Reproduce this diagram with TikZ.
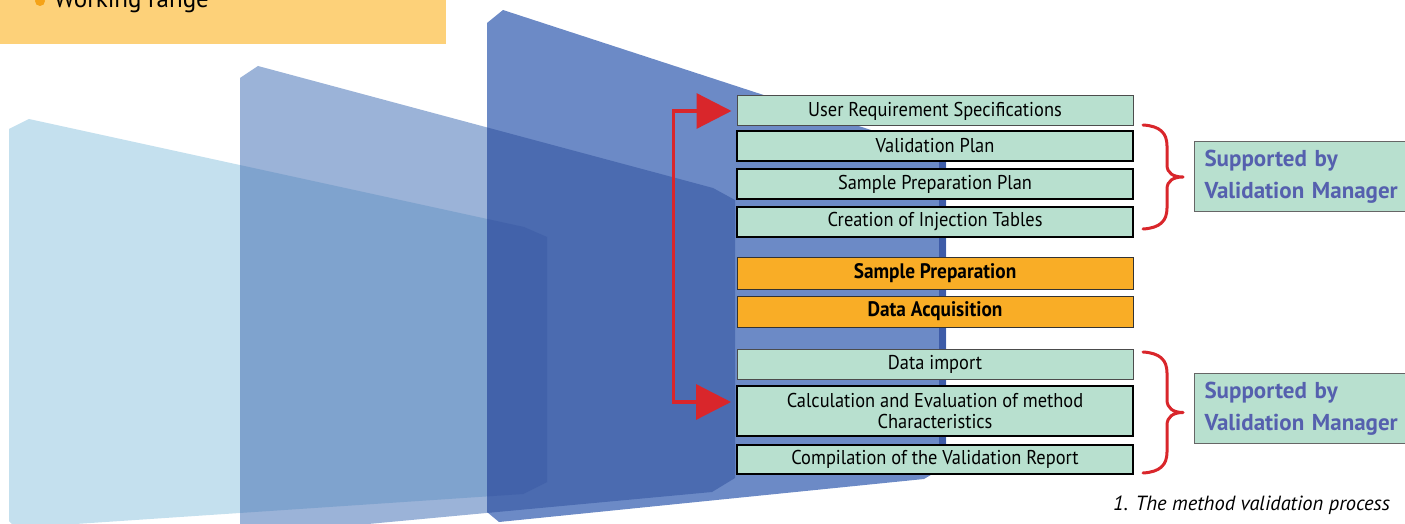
\documentclass[tikz,border=0pt]{standalone}
\usepackage{fontspec}
\setmainfont{PT Sans}
\newfontfamily\condfont[FakeStretch=0.92]{PT Sans}
\usetikzlibrary{arrows.meta}
\definecolor{panA}{HTML}{C4E0EE}
\definecolor{panB}{HTML}{9BB3D8}
\definecolor{panC}{HTML}{6C8AC6}
\definecolor{panAB}{HTML}{7FA3CE}
\definecolor{panBC}{HTML}{4B6BB0}
\definecolor{panABC}{HTML}{4262AA}
\definecolor{panEdge}{HTML}{3E5CA8}
\definecolor{mint}{HTML}{B8E0CF}
\definecolor{amber}{HTML}{F9AD26}
\definecolor{paleamber}{HTML}{FDD179}
\definecolor{bulletc}{HTML}{F5A318}
\definecolor{redc}{HTML}{D9262B}
\definecolor{slate}{HTML}{5560AE}
\newcommand{\myboxfont}{\condfont\fontsize{20bp}{20.5bp}\selectfont}
\newcommand{\myboldfont}{\condfont\fontsize{21bp}{22bp}\selectfont\bfseries}
\newcommand{\mysupfont}{\fontsize{23bp}{32bp}\selectfont\bfseries}
\newcommand{\mycapfont}{\fontsize{20.5bp}{22bp}\selectfont\itshape}
\newcommand{\mytopfont}{\fontsize{25bp}{28bp}\selectfont}
\def\pathA{(9,129) -- (29,119) -- (524,227) -- (547,237) -- (547,482) -- (523,494) -- (16,528) -- (9,521) -- cycle}
\def\pathB{(240,78) -- (258,66) -- (713,188) -- (735,200) -- (735,478) -- (712,492) -- (250,535) -- (240,528) -- cycle}
\def\pathC{(487,23) -- (503,10) -- (920,146) -- (946,158) -- (946,466) -- (924,479) -- (499,522) -- (487,512) -- cycle}
\tikzset{
  stepbox/.style={draw, fill=mint, minimum width=396bp, minimum height=30bp, inner sep=0pt, font=\myboxfont, text=black, align=center},
  thinbox/.style={stepbox, draw=black!70, line width=1bp},
  thickbox/.style={stepbox, draw=black, line width=2bp},
  ambbox/.style={stepbox, fill=amber, draw=black!80, line width=1bp, font=\myboldfont, minimum height=31bp},
  supbox/.style={draw=black!60, line width=1bp, fill=mint, anchor=north west, minimum height=70bp, text width=200bp, inner xsep=10bp, inner ysep=0pt, align=left, text=slate, font=\mysupfont},
  redline/.style={draw=redc, line width=3.3bp},
  bracestyle/.style={draw=redc, line width=3bp, line cap=round, line join=round}
}
\begin{document}
\begin{tikzpicture}[x=1bp,y=-1bp]
\useasboundingbox (0,0) rectangle (1405,524);
\clip (0,0) rectangle (1405,524);
% translucent panels
\fill[panA] \pathA;
\fill[panB] \pathB;
\fill[panC] \pathC;
\begin{scope}
  \clip \pathA;
  \fill[panAB] \pathB;
\end{scope}
\begin{scope}
  \clip \pathB;
  \fill[panBC] \pathC;
  \clip \pathA;
  \fill[panABC] \pathC;
\end{scope}
\begin{scope}
  \clip \pathC;
  \fill[panEdge] (939,140) rectangle (946,480);
\end{scope}
% top label
\node[fill=paleamber, anchor=south west, minimum width=446bp, minimum height=60bp, inner sep=0pt] (topbox) at (0,44) {};
\fill[bulletc] (40,1) circle[radius=5bp];
\node[anchor=base west, font=\mytopfont, inner sep=0pt] (wr) at (54,7.5) {Working range};
% process steps
\node[thinbox] (urs) at (935,111) {User Requirement Specifications};
\node[thickbox] (vp) at (935,146) {Validation Plan};
\node[thickbox] (spp) at (935,184) {Sample Preparation Plan};
\node[thickbox] (cit) at (935,222) {Creation of Injection Tables};
\node[ambbox] (sp) at (935,273.5) {Sample Preparation};
\node[ambbox] (da) at (935,311.5) {Data Acquisition};
\node[thinbox] (di) at (935,364) {Data import};
\node[thickbox, minimum height=50bp] (calc) at (935,411) {Calculation and Evaluation of method\\Characteristics};
\node[thickbox, minimum height=29bp] (comp) at (935,459.5) {Compilation of the Validation Report};
% support boxes
\node[supbox] (sup1) at (1194,141) {Supported by\\Validation Manager};
\node[supbox] (sup2) at (1194,373) {Supported by\\Validation Manager};
% red double arrow
\draw[redline, {Triangle[length=35bp,width=35bp]}-{Triangle[length=35bp,width=35bp]}, shorten <=5bp, shorten >=5bp]
  (urs.west) -- ++(-63,0) |- ([yshift=9bp]calc.west);
% braces
\draw[bracestyle] (1143,125) .. controls (1160,126) and (1167,133) .. (1167,146) -- (1167,165)
  .. controls (1167,173) and (1173,177) .. (1183,177)
  .. controls (1173,177) and (1167,181) .. (1167,189) -- (1167,208)
  .. controls (1167,221) and (1160,228) .. (1143,229);
\draw[bracestyle] (1143,352) .. controls (1160,353) and (1167,360) .. (1167,373) -- (1167,400)
  .. controls (1167,408) and (1173,412.5) .. (1183,412.5)
  .. controls (1173,412.5) and (1167,417) .. (1167,425) -- (1167,452)
  .. controls (1167,465) and (1160,472) .. (1143,473);
% caption
\node[anchor=base west, font=\mycapfont, inner sep=0pt] (cap) at (1113,510) {1. The method validation process};
\end{tikzpicture}
\end{document}
